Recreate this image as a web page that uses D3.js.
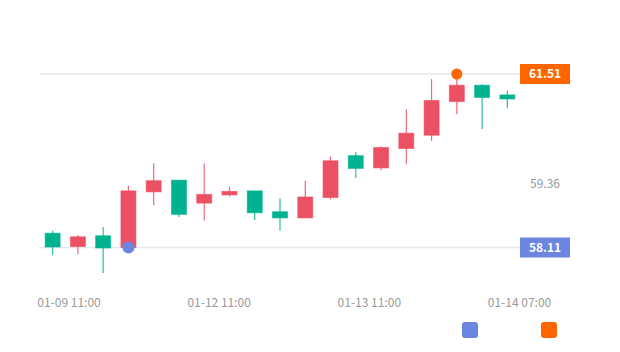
<!DOCTYPE html>
<html>
<head>
<meta charset="utf-8">
<script src="https://cdn.jsdelivr.net/npm/d3@7"></script>
<style>
  html, body { margin: 0; padding: 0; background: #fff; }
  svg { display: block; font-family: "Noto Sans CJK SC", "Noto Sans", sans-serif; }
</style>
</head>
<body>
<svg id="chart" width="620" height="352"></svg>
<script>
// candles, red = up, green = down
const opens = [58.39, 58.13, 58.34, 58.11, 59.20, 59.43, 58.98, 59.14, 59.22, 58.81, 58.69, 59.09, 59.91, 59.67, 60.05, 60.31, 60.97, 61.29, 61.10]
const closes = [58.12, 58.32, 58.10, 59.22, 59.42, 58.76, 59.15, 59.21, 58.79, 58.69, 59.10, 59.81, 59.66, 60.07, 60.35, 60.99, 61.29, 61.05, 61.02]
const lows = [57.97, 57.98, 57.61, 58.11, 58.94, 58.71, 58.64, 59.11, 58.65, 58.44, 58.69, 59.05, 59.47, 59.63, 59.74, 60.20, 60.72, 60.43, 60.84]
const highs = [58.44, 58.35, 58.51, 59.32, 59.76, 59.43, 59.76, 59.30, 59.22, 59.07, 59.42, 59.89, 59.98, 60.09, 60.82, 61.41, 61.51, 61.31, 61.18]

const tickLabels = ['01-09 11:00', '01-12 11:00', '01-13 11:00', '01-14 07:00']
const maxMark = { index: 16, value: 61.51, label: '61.51' }
const minMark = { index: 3, value: 58.11, label: '58.11' }
const midValue = 59.36

const upColor = '#eb5063'
const downColor = '#00b390'

var svg = d3.select('#chart')

var x = d3.scaleBand()
  .domain(d3.range(opens.length))
  .range([40, 520])

var y = d3.scaleLinear()
  .domain([58.11, 61.51])
  .range([247.5, 74])

var cx = i => x(i) + x.bandwidth() / 2

// reference lines at max / min
svg.selectAll('.ref').data([maxMark, minMark])
  .enter().append('line')
  .attr('class', 'ref')
  .attr('x1', 40)
  .attr('x2', 520)
  .attr('y1', d => y(d.value))
  .attr('y2', d => y(d.value))
  .attr('stroke', '#e6e6e6')
  .attr('stroke-width', 1.5)

var candles = svg.append('g').selectAll('g').data(opens)
  .enter().append('g')

candles.append('line')
  .attr('x1', (d, i) => cx(i))
  .attr('x2', (d, i) => cx(i))
  .attr('y1', (d, i) => y(highs[i]))
  .attr('y2', (d, i) => y(lows[i]))
  .attr('stroke', (d, i) => closes[i] >= d ? upColor : downColor)
  .attr('stroke-opacity', 0.85)
  .attr('stroke-width', 1.2)

candles.append('rect')
  .attr('x', (d, i) => cx(i) - 7.5)
  .attr('width', 15)
  .attr('y', (d, i) => y(Math.max(d, closes[i])))
  .attr('height', (d, i) => Math.max(1.5, Math.abs(y(d) - y(closes[i]))))
  .attr('fill', (d, i) => closes[i] >= d ? upColor : downColor)
  .attr('stroke', (d, i) => closes[i] >= d ? upColor : downColor)
  .attr('stroke-opacity', 0.6)
  .attr('stroke-width', 1)

// max / min points
svg.selectAll('.mark').data([
  { m: maxMark, color: '#ff6600', r: 5.5 },
  { m: minMark, color: '#6a86e0', r: 6 }
])
  .enter().append('circle')
  .attr('class', 'mark')
  .attr('cx', d => cx(d.m.index))
  .attr('cy', d => y(d.m.value))
  .attr('r', d => d.r)
  .attr('fill', d => d.color)

// value tags on the right
var tags = svg.selectAll('.tag').data([
  { m: maxMark, color: '#ff6600' },
  { m: minMark, color: '#6a86e0' }
])
  .enter().append('g')
  .attr('class', 'tag')
  .attr('transform', d => 'translate(520,' + y(d.m.value) + ')')

tags.append('rect')
  .attr('x', 0)
  .attr('y', -10)
  .attr('width', 50)
  .attr('height', 20)
  .attr('fill', d => d.color)

tags.append('text')
  .attr('x', 25)
  .attr('y', 0)
  .attr('dy', '0.35em')
  .attr('text-anchor', 'middle')
  .attr('fill', '#fff')
  .attr('font-size', 12)
  .attr('font-weight', 'bold')
  .text(d => d.m.label)

svg.append('text')
  .attr('x', 545)
  .attr('y', y(midValue))
  .attr('dy', '0.35em')
  .attr('text-anchor', 'middle')
  .attr('fill', '#999')
  .attr('font-size', 12)
  .text(midValue.toFixed(2))

// x labels
var xl = d3.scalePoint()
  .domain(tickLabels)
  .range([69, 519.5])

svg.selectAll('.xlabel').data(tickLabels)
  .enter().append('text')
  .attr('class', 'xlabel')
  .attr('x', d => xl(d))
  .attr('y', 303)
  .attr('dy', '0.35em')
  .attr('text-anchor', 'middle')
  .attr('fill', '#999')
  .attr('font-size', 12)
  .text(d => d)

// legend swatches
svg.selectAll('.legend').data(['#6a86e0', '#ff6600'])
  .enter().append('rect')
  .attr('class', 'legend')
  .attr('x', (d, i) => 462 + i * 79)
  .attr('y', 322)
  .attr('width', 16)
  .attr('height', 16)
  .attr('rx', 3)
  .attr('fill', d => d)
</script>
</body>
</html>
